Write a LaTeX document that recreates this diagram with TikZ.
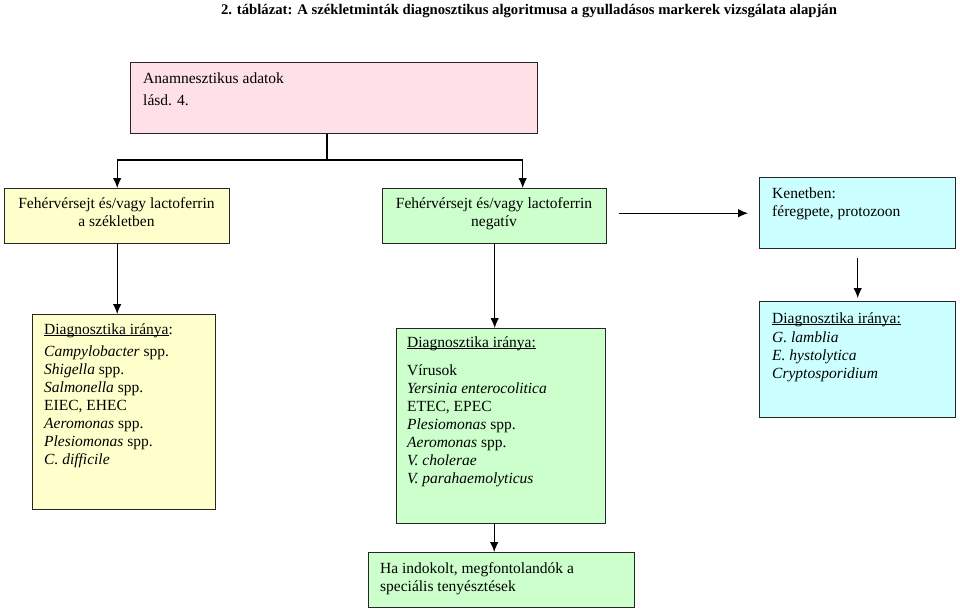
\documentclass[tikz,border=0pt]{standalone}
\usepackage{fontspec}
\setmainfont{Liberation Serif}
\usetikzlibrary{arrows.meta,calc}
\definecolor{pinkc}{RGB}{255,224,230}
\definecolor{yelc}{RGB}{255,255,204}
\definecolor{grnc}{RGB}{204,255,204}
\definecolor{cyac}{RGB}{204,255,255}
\newcommand{\bodyfont}{\fontsize{15.5}{18}\selectfont}
\newcommand{\ulx}[1]{\setbox0\hbox{#1}\rlap{\rule[-2pt]{\wd0}{0.8pt}}\box0}
\tikzset{
 box/.style={draw=black!85, line width=1.4pt, inner sep=0pt, anchor=north west},
 txt/.style={inner sep=0pt, font=\bodyfont, align=left, anchor=north west},
 ctxt/.style={inner sep=0pt, font=\bodyfont, align=center, anchor=north},
 arr/.style={line width=1.1pt, -{Latex[length=10pt,width=8.5pt]}},
 ln/.style={line width=1.1pt},
}
\begin{document}
\begin{tikzpicture}[x=1pt,y=-1pt]
\useasboundingbox (0,0) rectangle (960,611);
\node[font=\fontsize{14.7}{17}\selectfont\bfseries, anchor=base, inner sep=0pt] (title) at (529,14) {2. táblázat: A székletminták diagnosztikus algoritmusa a gyulladásos markerek vizsgálata alapján};
% boxes
\node[box, fill=pinkc, minimum width=407pt, minimum height=71pt] (b1) at (130,62) {};
\node[box, fill=yelc, minimum width=225pt, minimum height=55pt] (b2) at (4,188) {};
\node[box, fill=grnc, minimum width=224pt, minimum height=55pt] (b3) at (382,188) {};
\node[box, fill=cyac, minimum width=196pt, minimum height=71pt] (b4) at (759,177) {};
\node[box, fill=yelc, minimum width=183pt, minimum height=195pt] (b5) at (32,314) {};
\node[box, fill=grnc, minimum width=209pt, minimum height=195pt] (b6) at (396,328) {};
\node[box, fill=cyac, minimum width=196pt, minimum height=116pt] (b7) at (759,301) {};
\node[box, fill=grnc, minimum width=266pt, minimum height=55pt] (b8) at (368,552) {};
% texts
\node[txt] (t1) at (143,70.4) {\strut Anamnesztikus adatok\\[4pt] lásd. 4.};
\node[ctxt] (t2) at (116.5,195.4) {\strut Fehérvérsejt és/vagy lactoferrin\\ a székletben};
\node[ctxt] (t3) at (494,195.4) {\strut Fehérvérsejt és/vagy lactoferrin\\ negatív};
\node[txt] (t4) at (772,185.4) {\strut Kenetben:\\ féregpete, protozoon};
\node[txt] (t5) at (44,321.4) {\strut\ulx{Diagnosztika iránya}:\\[4pt]
 \textit{Campylobacter} spp.\\ \textit{Shigella} spp.\\ \textit{Salmonella} spp.\\ EIEC, EHEC\\
 \textit{Aeromonas} spp.\\ \textit{Plesiomonas} spp.\\ \textit{C. difficile}};
\node[txt] (t6) at (407,334.4) {\strut\ulx{Diagnosztika iránya:}\\[10pt]
 Vírusok\\ \textit{Yersinia enterocolitica}\\ ETEC, EPEC\\ \textit{Plesiomonas} spp.\\
 \textit{Aeromonas} spp.\\ \textit{V. cholerae}\\ \textit{V. parahaemolyticus}};
\node[txt] (t7) at (772,310.4) {\strut\ulx{Diagnosztika iránya:}\\[1pt]
 \textit{G. lamblia}\\ \textit{E. hystolytica}\\ \textit{Cryptosporidium}};
\node[txt] (t8) at (380,560.4) {\strut Ha indokolt, megfontolandók a\\ speciális tenyésztések};
% connectors
\coordinate (j) at (327,160);
\draw[ln] (b1.south -| j) -- (j);
\draw[arr] (j) -| (b2.north);
\draw[arr] (j) -| ($(b3.north)+(28,0)$);
\draw[arr] (b2.south) -- (b2.south |- b5.north);
\draw[arr] (b3.south) -- (b3.south |- b6.north);
\coordinate (c34a) at ($(b3.east |- b4.west)+(12,0)$);
\coordinate (c34b) at ($(b4.west)+(-11,0)$);
\draw[arr] (c34a) -- (c34b);
\coordinate (c47a) at ($(b4.south)+(0,9)$);
\coordinate (c47b) at ($(b7.north)+(0,-3)$);
\draw[arr] (c47a) -- (c47b);
\coordinate (c6) at ($(b6.south)+(-7,0)$);
\draw[arr] (c6) -- (c6 |- b8.north);
\end{tikzpicture}
\end{document}
